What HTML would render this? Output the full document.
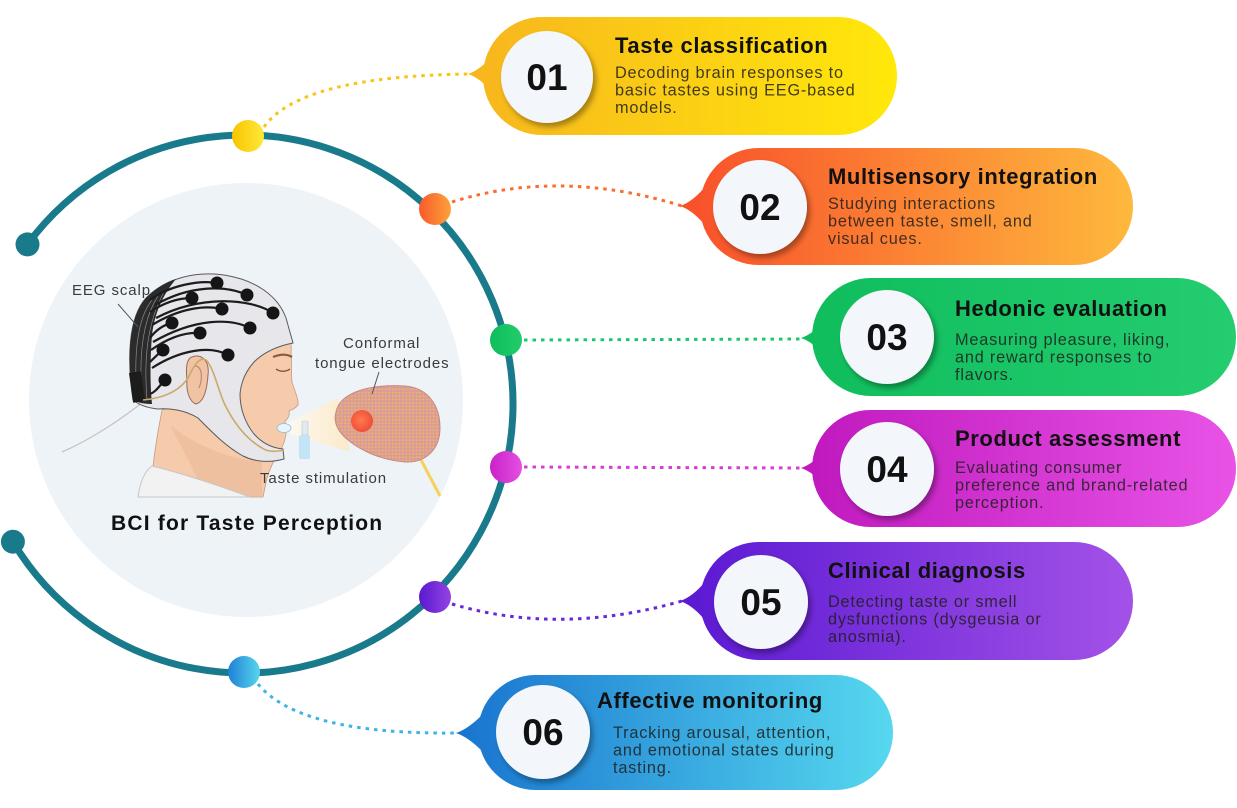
<!DOCTYPE html>
<html><head><meta charset="utf-8">
<style>
html,body{margin:0;padding:0;background:#fff;}
svg{display:block;}
text{font-family:"Liberation Sans",sans-serif;}
.num{font-size:37px;font-weight:bold;fill:#111;text-anchor:middle;}
.tt{font-size:22px;font-weight:bold;fill:#111;letter-spacing:0.6px;}
.ds{font-size:16.3px;fill:#1e1e1e;fill-opacity:0.85;letter-spacing:0.8px;}
.lb{font-size:15px;fill:#3a3a3a;letter-spacing:0.9px;}
</style></head><body>
<svg width="1237" height="808" viewBox="0 0 1237 808" xmlns="http://www.w3.org/2000/svg">
<defs>
  <linearGradient id="g1" gradientUnits="userSpaceOnUse" x1="468" y1="0" x2="897" y2="0"><stop offset="0" stop-color="#f7b51e"/><stop offset="1" stop-color="#ffe80a"/></linearGradient>
  <linearGradient id="g2" gradientUnits="userSpaceOnUse" x1="680" y1="0" x2="1133" y2="0"><stop offset="0" stop-color="#f94e2a"/><stop offset="1" stop-color="#feb93d"/></linearGradient>
  <linearGradient id="g3" gradientUnits="userSpaceOnUse" x1="802" y1="0" x2="1236" y2="0"><stop offset="0" stop-color="#0fbd5c"/><stop offset="1" stop-color="#24cd70"/></linearGradient>
  <linearGradient id="g4" gradientUnits="userSpaceOnUse" x1="802" y1="0" x2="1236" y2="0"><stop offset="0" stop-color="#bf18bd"/><stop offset="1" stop-color="#e853e6"/></linearGradient>
  <linearGradient id="g5" gradientUnits="userSpaceOnUse" x1="680" y1="0" x2="1133" y2="0"><stop offset="0" stop-color="#5a18d2"/><stop offset="1" stop-color="#a352e8"/></linearGradient>
  <linearGradient id="g6" gradientUnits="userSpaceOnUse" x1="456" y1="0" x2="893" y2="0"><stop offset="0" stop-color="#1874cf"/><stop offset="1" stop-color="#56d8ef"/></linearGradient>

  <linearGradient id="d1" x1="0" y1="0" x2="1" y2="0"><stop offset="0" stop-color="#f9c400"/><stop offset="1" stop-color="#ffe83a"/></linearGradient>
  <linearGradient id="d2" x1="0" y1="0" x2="1" y2="0"><stop offset="0" stop-color="#fa5a2a"/><stop offset="1" stop-color="#fca23a"/></linearGradient>
  <linearGradient id="d3" x1="0" y1="0" x2="1" y2="0"><stop offset="0" stop-color="#0fbd5a"/><stop offset="1" stop-color="#22cc6c"/></linearGradient>
  <linearGradient id="d4" x1="0" y1="0" x2="1" y2="0"><stop offset="0" stop-color="#c822c8"/><stop offset="1" stop-color="#e450e2"/></linearGradient>
  <linearGradient id="d5" x1="0" y1="0" x2="1" y2="0"><stop offset="0" stop-color="#5a18d0"/><stop offset="1" stop-color="#9444e2"/></linearGradient>
  <linearGradient id="d6" x1="0" y1="0" x2="1" y2="0"><stop offset="0" stop-color="#1f80d6"/><stop offset="1" stop-color="#58d6ee"/></linearGradient>

  <linearGradient id="beam" x1="0" y1="0" x2="1" y2="0"><stop offset="0" stop-color="#fffaf0" stop-opacity="0.9"/><stop offset="1" stop-color="#fde8c0" stop-opacity="0.8"/></linearGradient>
  <radialGradient id="spot" cx="0.45" cy="0.45" r="0.6"><stop offset="0" stop-color="#ff7a50"/><stop offset="1" stop-color="#ee4a34"/></radialGradient>
  <pattern id="tdots" width="3.4" height="3.4" patternUnits="userSpaceOnUse"><rect width="3.4" height="3.4" fill="#d99c9a"/><circle cx="1.7" cy="1.7" r="0.95" fill="#f2b860"/></pattern>
  <filter id="sh" x="-30%" y="-30%" width="170%" height="170%"><feDropShadow dx="3" dy="4" stdDeviation="3" flood-color="#000" flood-opacity="0.35"/></filter>
</defs>

<!-- light inner circle -->
<circle cx="246" cy="400" r="217" fill="#eef3f8"/>

<!-- teal arc -->
<path d="M 27.5,244.4 A 269 269 0 1 1 12.9,541.7" fill="none" stroke="#187a8b" stroke-width="7"/>
<circle cx="27.5" cy="244.4" r="12" fill="#187a8b"/>
<circle cx="12.9" cy="541.7" r="12" fill="#187a8b"/>

<!-- connectors -->
<g fill="none" stroke-width="3" stroke-dasharray="3.5 5">
  <path d="M 264,127 Q 300,76 470,74" stroke="#f5c518"/>
  <path d="M 452,202 Q 560,168 682,206" stroke="#fa6d2e"/>
  <path d="M 524,340 L 803,339" stroke="#20c768"/>
  <path d="M 524,467 L 803,468" stroke="#d83cd6"/>
  <path d="M 452,604 Q 560,636 682,601" stroke="#6a28d8"/>
  <path d="M 258,684 Q 300,735 458,733" stroke="#3db4e8"/>
</g>

<!-- arc dots -->
<circle cx="248" cy="136" r="16" fill="url(#d1)"/>
<circle cx="435" cy="209" r="16" fill="url(#d2)"/>
<circle cx="506" cy="340" r="16" fill="url(#d3)"/>
<circle cx="506" cy="467" r="16" fill="url(#d4)"/>
<circle cx="435" cy="597" r="16" fill="url(#d5)"/>
<circle cx="244" cy="672" r="16" fill="url(#d6)"/>

<!-- ============ illustration ============ -->
<!-- gray cable -->
<path d="M 143,402 C 120,420 90,440 62,452" fill="none" stroke="#c4c4c4" stroke-width="1.3"/>
<!-- skin -->
<path d="M 150,497 C 152,470 156,440 162,410 L 200,395 L 282,312 C 289,328 292,342 291,352 C 292,362 291,372 292,382 C 295,392 299,400 298,405 C 295,409 291,410 289,411 C 290,415 288,419 285,421 L 286,434 C 285,441 283,447 279,452 C 274,460 270,468 267,478 L 263,497 Z" fill="#f5cbab" stroke="#c89a80" stroke-width="0.8"/>
<path d="M 170,425 C 195,445 225,458 262,462 L 262,497 L 205,497 C 195,470 180,445 170,425 Z" fill="#e6b393" opacity="0.45"/>
<!-- shirt -->
<path d="M 138,497 C 140,482 145,471 152,466 C 185,474 220,486 250,497 Z" fill="#f2f2f2" stroke="#c6c6c6" stroke-width="1"/>
<!-- eyebrow & eye -->
<path d="M 273,357 C 280,354 287,354 292,357" fill="none" stroke="#8a5a40" stroke-width="2.2"/>
<path d="M 276,369 C 280,372 286,372 290,369" fill="none" stroke="#7a4a3a" stroke-width="1.3"/>
<!-- cap -->
<path d="M 133,400 C 127,360 128,318 146,298 C 166,278 196,271 224,275 C 256,280 278,296 286,318 L 293,343 C 278,346 264,352 254,362 C 246,371 241,382 240,394 C 240,410 246,424 254,434 C 262,443 272,448 283,449 L 284,459 C 270,463 255,462 243,456 C 225,446 210,430 198,418 C 185,410 170,408 158,409 C 148,408 139,405 133,400 Z" fill="#e6e6eb" stroke="#5a5a5a" stroke-width="1"/>
<!-- dark back band -->
<path d="M 133,400 C 127,360 128,318 146,298 C 156,288 166,282 176,279 C 165,292 155,310 152,335 C 150,360 150,385 152,404 C 145,404 138,403 133,400 Z" fill="#2b2b2b"/>
<g fill="none" stroke="#8a8a8a" stroke-width="0.7">
  <path d="M 137,395 C 134,360 136,320 152,300"/>
  <path d="M 142,398 C 139,360 141,322 158,296"/>
  <path d="M 147,400 C 144,362 146,325 164,292"/>
</g>
<!-- wires -->
<g fill="none" stroke="#1c1c1c" stroke-width="2.2">
  <path d="M 217,283 C 200,280 170,285 150,300"/>
  <path d="M 247,295 C 225,285 190,285 155,305"/>
  <path d="M 192,298 C 180,298 165,302 150,312"/>
  <path d="M 273,313 C 250,298 200,295 156,318"/>
  <path d="M 222,309 C 205,305 180,308 152,325"/>
  <path d="M 172,323 C 163,325 156,330 150,338"/>
  <path d="M 250,328 C 230,318 195,318 153,342"/>
  <path d="M 200,333 C 185,332 168,338 151,350"/>
  <path d="M 228,355 C 210,345 180,350 152,368"/>
  <path d="M 163,350 C 158,354 154,358 150,362"/>
  <path d="M 165,380 C 160,385 156,392 150,394"/>
</g>
<g fill="#151515">
  <circle cx="217" cy="283" r="6.5"/><circle cx="247" cy="295" r="6.5"/><circle cx="192" cy="298" r="6.5"/>
  <circle cx="273" cy="313" r="6.5"/><circle cx="222" cy="309" r="6.5"/><circle cx="172" cy="323" r="6.5"/>
  <circle cx="250" cy="328" r="6.5"/><circle cx="200" cy="333" r="6.5"/><circle cx="228" cy="355" r="6.5"/>
  <circle cx="163" cy="350" r="6.5"/><circle cx="165" cy="380" r="6.5"/>
</g>
<rect x="131" y="372" width="12" height="30" fill="#1c1c1c" transform="rotate(-8 137 387)"/>
<!-- ear -->
<path d="M 190,358 C 200,352 210,360 208,375 C 207,390 204,402 196,404 C 190,402 186,392 187,380 C 186,370 186,362 190,358 Z" fill="#f1c3a5" stroke="#9a6a55" stroke-width="1"/>
<path d="M 195,366 C 202,366 203,378 199,388" fill="none" stroke="#c08870" stroke-width="1.2"/>
<!-- tan cable -->
<path d="M 143,400 C 165,398 180,390 188,378 C 194,365 200,356 206,360 C 214,368 218,390 225,405 C 235,425 248,440 262,448 C 268,452 274,452 284,450" fill="none" stroke="#c9aa6a" stroke-width="1.6"/>
<!-- beam -->
<path d="M 286,424 L 338,398 L 350,452 L 290,434 Z" fill="url(#beam)"/>
<!-- mouthpiece -->
<ellipse cx="284" cy="428" rx="7" ry="4.5" fill="#e8f4fc" stroke="#8bbcd6" stroke-width="0.8"/>
<!-- vial -->
<rect x="302" y="421" width="6" height="14" rx="1.5" fill="#e2e9ef" stroke="#b8c8d2" stroke-width="0.6"/>
<rect x="299" y="435" width="11" height="24" rx="2" fill="#c2e4f5"/>
<!-- tongue -->
<path d="M 420,458 L 440,496" stroke="#f6d25a" stroke-width="3" fill="none"/>
<path d="M 336,412 C 340,392 370,384 405,386 C 428,388 440,405 440,428 C 440,450 425,463 405,462 C 380,460 360,450 348,440 C 338,432 333,422 336,412 Z" fill="url(#tdots)" stroke="#c88886" stroke-width="1"/>
<circle cx="362" cy="421" r="11" fill="url(#spot)"/>
<!-- leader lines -->
<line x1="118" y1="304" x2="138" y2="327" stroke="#555" stroke-width="1"/>
<line x1="379" y1="372" x2="372" y2="394" stroke="#555" stroke-width="1"/>
<!-- labels -->
<text x="72" y="295" class="lb">EEG scalp</text>
<text x="343" y="348" class="lb">Conformal</text>
<text x="315" y="368" class="lb">tongue electrodes</text>
<text x="260" y="483" class="lb">Taste stimulation</text>
<text x="111" y="530" style="font-size:21px;font-weight:bold;fill:#111;letter-spacing:1.2px;">BCI for Taste Perception</text>

<!-- ============ cards ============ -->
<!-- card 1 -->
<path d="M 468,74 Q 480,70 492,56 L 492,92 Q 480,78 468,74 Z" fill="url(#g1)"/>
<rect x="483" y="17" width="414" height="118" rx="59" fill="url(#g1)"/>
<circle cx="547" cy="77" r="46" fill="#f3f6fa" filter="url(#sh)"/>
<text x="547" y="90" class="num">01</text>
<text x="615" y="53" class="tt">Taste classification</text>
<text class="ds"><tspan x="615" y="78">Decoding brain responses to</tspan><tspan x="615" y="95.5">basic tastes using EEG-based</tspan><tspan x="615" y="113">models.</tspan></text>

<!-- card 2 -->
<path d="M 680,206 Q 692,202 704,188 L 704,224 Q 692,210 680,206 Z" fill="url(#g2)"/>
<rect x="700" y="148" width="433" height="117" rx="58.5" fill="url(#g2)"/>
<circle cx="760" cy="207" r="47" fill="#f3f6fa" filter="url(#sh)"/>
<text x="760" y="220" class="num">02</text>
<text x="828" y="184" class="tt">Multisensory integration</text>
<text class="ds"><tspan x="828" y="209">Studying interactions</tspan><tspan x="828" y="226.5">between taste, smell, and</tspan><tspan x="828" y="244">visual cues.</tspan></text>

<!-- card 3 -->
<path d="M 801,338 Q 813,334 825,320 L 825,356 Q 813,342 801,338 Z" fill="url(#g3)"/>
<rect x="812" y="278" width="424" height="118" rx="59" fill="url(#g3)"/>
<circle cx="887" cy="337" r="47" fill="#f3f6fa" filter="url(#sh)"/>
<text x="887" y="350" class="num">03</text>
<text x="955" y="316" class="tt">Hedonic evaluation</text>
<text class="ds"><tspan x="955" y="345">Measuring pleasure, liking,</tspan><tspan x="955" y="362.5">and reward responses to</tspan><tspan x="955" y="380">flavors.</tspan></text>

<!-- card 4 -->
<path d="M 801,468 Q 813,464 825,450 L 825,486 Q 813,472 801,468 Z" fill="url(#g4)"/>
<rect x="812" y="410" width="424" height="117" rx="58.5" fill="url(#g4)"/>
<circle cx="887" cy="469" r="47" fill="#f3f6fa" filter="url(#sh)"/>
<text x="887" y="482" class="num">04</text>
<text x="955" y="446" class="tt">Product assessment</text>
<text class="ds"><tspan x="955" y="473">Evaluating consumer</tspan><tspan x="955" y="490.5">preference and brand-related</tspan><tspan x="955" y="508">perception.</tspan></text>

<!-- card 5 -->
<path d="M 680,601 Q 692,597 704,583 L 704,619 Q 692,605 680,601 Z" fill="url(#g5)"/>
<rect x="700" y="542" width="433" height="118" rx="59" fill="url(#g5)"/>
<circle cx="761" cy="602" r="47" fill="#f3f6fa" filter="url(#sh)"/>
<text x="761" y="615" class="num">05</text>
<text x="828" y="578" class="tt">Clinical diagnosis</text>
<text class="ds"><tspan x="828" y="607">Detecting taste or smell</tspan><tspan x="828" y="624.5">dysfunctions (dysgeusia or</tspan><tspan x="828" y="642">anosmia).</tspan></text>

<!-- card 6 -->
<path d="M 456,733 Q 468,729 482,715 L 482,751 Q 468,737 456,733 Z" fill="url(#g6)"/>
<rect x="478" y="675" width="415" height="115" rx="57.5" fill="url(#g6)"/>
<circle cx="543" cy="732" r="47" fill="#f3f6fa" filter="url(#sh)"/>
<text x="543" y="745" class="num">06</text>
<text x="597" y="708" class="tt">Affective monitoring</text>
<text class="ds"><tspan x="613" y="738">Tracking arousal, attention,</tspan><tspan x="613" y="755.5">and emotional states during</tspan><tspan x="613" y="773">tasting.</tspan></text>
</svg>
</body></html>
